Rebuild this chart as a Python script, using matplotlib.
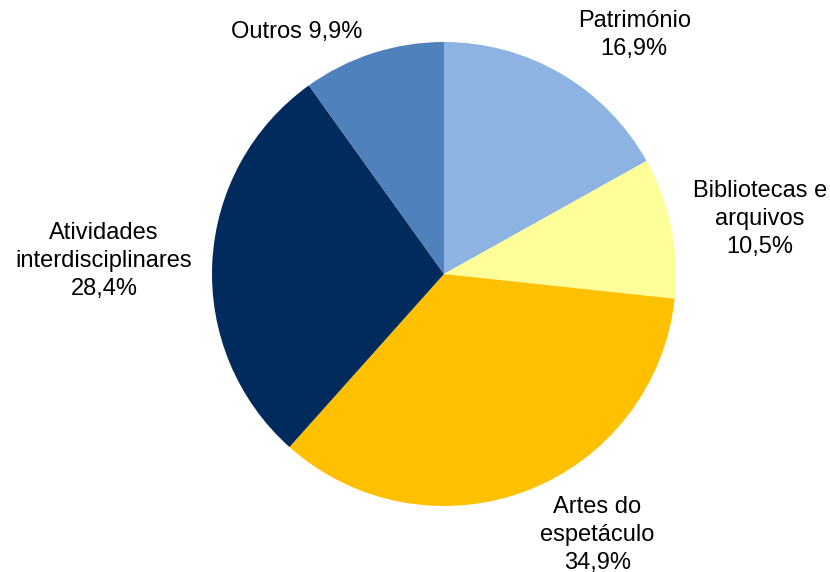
import matplotlib
matplotlib.use("Agg")
import matplotlib.pyplot as plt

plt.rcParams['font.family'] = ['Liberation Sans', 'DejaVu Sans']

# data
categories = ["Património", "Bibliotecas e\narquivos", "Artes do\nespetáculo",
              "Atividades\ninterdisciplinares", "Outros"]
# wedge sizes as drawn in the picture
values = [16.9, 9.8, 34.9, 28.5, 9.9]
# percentages printed on the labels
label_pct = ["16,9%", "10,5%", "34,9%", "28,4%", "9,9%"]
colors = ["#8DB3E2", "#FFFF99", "#FFC000", "#002B5C", "#4F81BD"]

# label positions in pie units (radius = 1), centre of each text block
label_pos = [(0.82, 1.03), (1.362, 0.237), (0.66, -1.125), (-1.466, 0.056), (-0.636, 1.043)]

fig = plt.figure(figsize=(8.3, 5.72), dpi=100)
cx, cy, r = 444, 572 - 274, 232
ax = fig.add_axes([(cx - r) / 830, (cy - r) / 572, 2 * r / 830, 2 * r / 572])

wedges, _ = ax.pie(values, colors=colors, startangle=90, counterclock=False,
                   wedgeprops=dict(linewidth=0))
ax.set_xlim(-1, 1)
ax.set_ylim(-1, 1)
ax.set_aspect('equal')
ax.axis('off')

for name, pct, (x, y) in zip(categories, label_pct, label_pos):
    sep = " " if name == "Outros" else "\n"
    ax.text(x, y, name + sep + pct, ha='center', va='center', fontsize=17,
            linespacing=1.33, color='black', clip_on=False)

fig.savefig("out.png", dpi=100)
